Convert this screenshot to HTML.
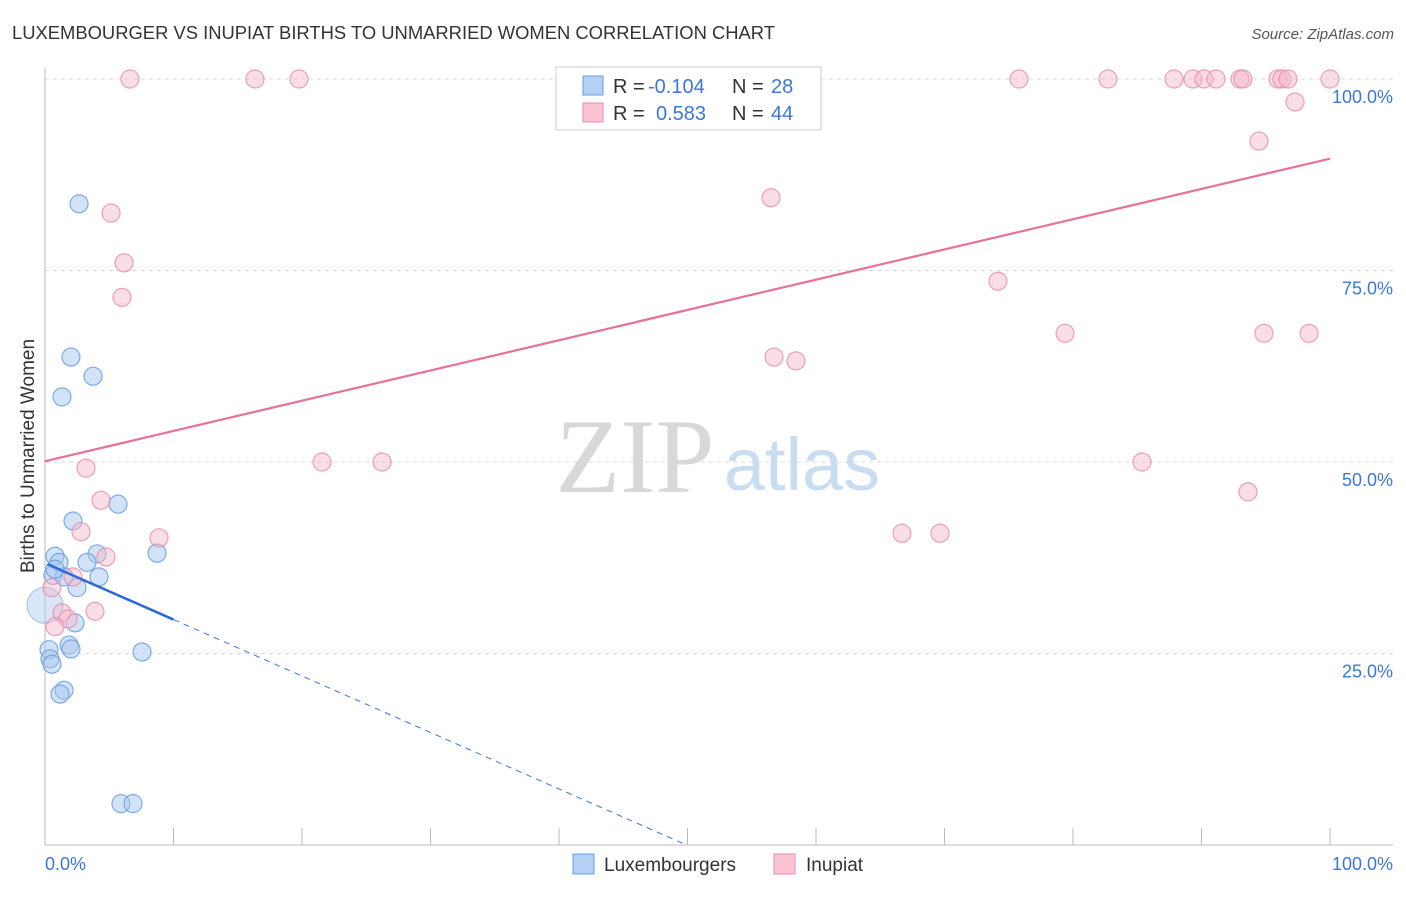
<!DOCTYPE html>
<html><head><meta charset="utf-8"><style>
body{margin:0;background:#fff;font-family:"Liberation Sans",sans-serif}
</style></head><body>
<svg id="c" width="1406" height="892" xmlns="http://www.w3.org/2000/svg">
<text x="12" y="39" font-size="18.4" fill="#333">LUXEMBOURGER VS INUPIAT BIRTHS TO UNMARRIED WOMEN CORRELATION CHART</text>
<text x="1394" y="39" font-size="15" fill="#555" font-style="italic" text-anchor="end">Source: ZipAtlas.com</text>
<text x="635" y="492" font-size="106" fill="#d8d8d8" font-family="Liberation Serif,serif" text-anchor="middle">ZIP</text>
<text x="802" y="490" font-size="74" fill="#c8dcf2" text-anchor="middle">atlas</text>
<g id="grid"></g><g id="axes"></g><g id="marks"></g>
<text transform="translate(34,456) rotate(-90)" font-size="19" fill="#333" text-anchor="middle">Births to Unmarried Women</text>
<g>
<rect x="556" y="67" width="265" height="63" fill="#fff" stroke="#ccc"/>
<rect x="583" y="76" width="20" height="19" fill="#b4d0f4" stroke="#6a9ee0"/>
<rect x="583" y="103" width="20" height="19" fill="#f9c3d3" stroke="#e88aa8"/>
<text x="613" y="93" font-size="20" fill="#333">R =</text>
<text x="648" y="93" font-size="20" fill="#3a78d8">-0.104</text>
<text x="732" y="93" font-size="20" fill="#333">N =</text>
<text x="771" y="93" font-size="20" fill="#3a78d8">28</text>
<text x="613" y="120" font-size="20" fill="#333">R =</text>
<text x="656" y="120" font-size="20" fill="#3a78d8">0.583</text>
<text x="732" y="120" font-size="20" fill="#333">N =</text>
<text x="771" y="120" font-size="20" fill="#3a78d8">44</text>
</g>
<g>
<rect x="573" y="854" width="21" height="20" fill="#b4d0f4" stroke="#6a9ee0"/>
<text x="604" y="871" font-size="19" fill="#333">Luxembourgers</text>
<rect x="774" y="854" width="21" height="20" fill="#f9c3d3" stroke="#e88aa8"/>
<text x="806" y="871" font-size="19" fill="#333">Inupiat</text>
</g>
</svg>
<script>
const blueX=[2.65,2.02,3.74,1.32,5.68,2.18,0.78,4.05,1.09,3.27,8.72,0.62,1.48,4.20,2.49,2.33,1.87,2.02,7.55,0.31,0.39,0.54,1.48,1.17,5.91,6.85,0.78];
const blueY=[83.7,63.7,61.2,58.5,44.5,42.3,37.7,38.0,36.9,36.9,38.1,35.2,35.0,35.0,33.6,29.0,26.1,25.6,25.2,25.5,24.3,23.6,20.2,19.7,5.4,5.4,36.0];
const pinkX=[6.61,16.34,19.77,52.53,75.8,82.72,87.86,89.34,90.19,91.13,93.0,93.23,95.95,96.26,96.73,100,97.28,94.47,56.5,5.14,6.15,5.99,74.16,79.38,94.86,98.37,56.73,58.44,21.56,26.23,85.37,3.19,93.62,4.36,2.8,66.69,69.65,8.87,4.75,2.18,0.54,1.32,3.89,1.79,0.78];
const pinkY=[100,100,100,100,100,100,100,100,100,100,100,100,100,100,100,100,97.0,91.9,84.5,82.5,76.0,71.5,73.6,66.8,66.8,66.8,63.7,63.2,50.0,50.0,50.0,49.2,46.1,45.0,40.9,40.7,40.7,40.1,37.6,35.0,33.6,30.3,30.5,29.5,28.5];
const yTicks=[25,50,75,100];
const xTicks=[0,10,20,30,40,50,60,70,80,90,100];
const pinkTrend=[50.1,89.6];
const blueTrend=[36.8,-0.737];
const NS='http://www.w3.org/2000/svg';
const sx=v=>45+v*12.85, sy=v=>845-v*7.66;
function mk(t,a,p){const e=document.createElementNS(NS,t);for(const k in a)e.setAttribute(k,a[k]);p.appendChild(e);return e;}
const grid=document.getElementById('grid'),axes=document.getElementById('axes'),marks=document.getElementById('marks');
yTicks.forEach(t=>{
 const l=mk('line',{x1:45,x2:1393,y1:sy(t),y2:sy(t),stroke:'#d8d8d8','stroke-dasharray':'4,4'},grid);
 
 
 const tx=mk('text',{x:1393,y:sy(t)+24,'font-size':18,fill:'#3a78d8','text-anchor':'end'},axes);
 tx.textContent=t.toFixed(1)+'%';
 
 
});
mk('line',{x1:45,x2:45,y1:68,y2:845,stroke:'#bbb'},axes);
mk('line',{x1:45,x2:1393,y1:845,y2:845,stroke:'#bbb'},axes);
xTicks.forEach(t=>{
 const l=mk('line',{x1:sx(t),x2:sx(t),y1:828,y2:845,stroke:'#bbb'},axes);
 
 
});
[[0,'0.0%','start',45],[100,'100.0%','end',1393]].forEach(a=>{
 const tx=mk('text',{x:a[3],y:870,'font-size':18,fill:'#3a78d8','text-anchor':a[2]},axes);
 tx.textContent=a[1];
 
 
});
const big=mk('circle',{cx:sx(0),cy:sy(31.3),r:18,fill:'rgba(168,200,240,0.45)',stroke:'rgba(106,158,224,0.6)'},marks);


blueX.forEach((x,i)=>{
 const c=mk('circle',{cx:sx(x),cy:sy(blueY[i]),r:9,fill:'rgba(168,200,240,0.5)',stroke:'rgba(106,158,224,0.85)','stroke-width':1.2},marks);
 
 
});
pinkX.forEach((x,i)=>{
 const c=mk('circle',{cx:sx(x),cy:sy(pinkY[i]),r:9,fill:'rgba(245,181,200,0.45)',stroke:'rgba(232,138,168,0.8)','stroke-width':1.2},marks);
 
 
});
const pl=mk('line',{x1:sx(0),y1:sy(pinkTrend[0]),x2:sx(100),y2:sy(pinkTrend[1]),stroke:'#e8709a','stroke-width':2.2},marks);


const bz=-blueTrend[0]/blueTrend[1];
const bd=mk('line',{x1:sx(10),y1:sy(blueTrend[0]+blueTrend[1]*10),x2:sx(bz),y2:sy(0),stroke:'#3a78d8','stroke-width':1,'stroke-dasharray':'6,5'},marks);


const bl=mk('line',{x1:sx(0.2),y1:sy(blueTrend[0]+blueTrend[1]*0.2),x2:sx(10),y2:sy(blueTrend[0]+blueTrend[1]*10),stroke:'#2a6ad8','stroke-width':2.5},marks);


</script>
</body></html>
